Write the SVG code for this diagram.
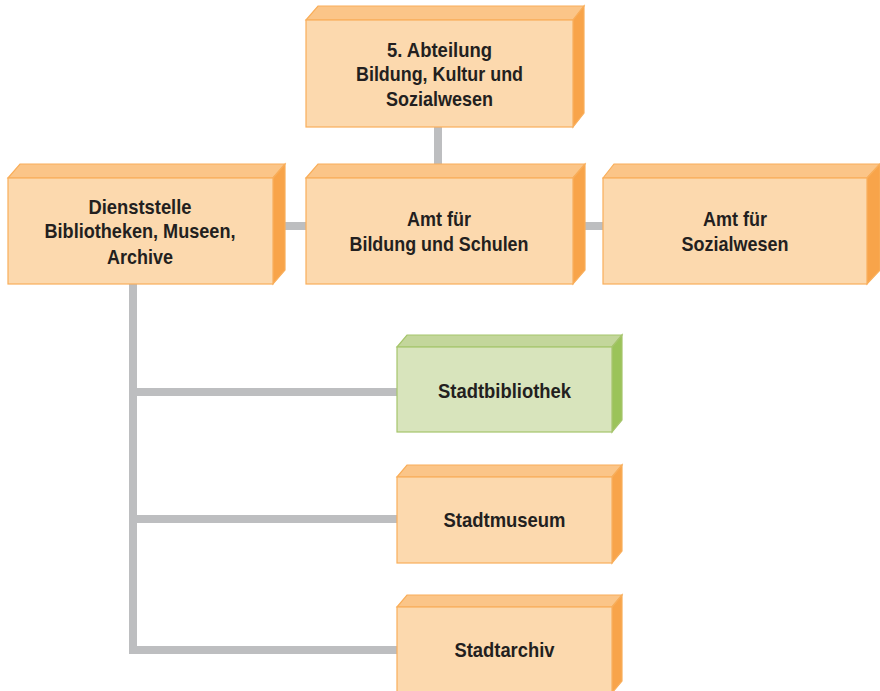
<svg xmlns="http://www.w3.org/2000/svg" width="880" height="691" viewBox="0 0 880 691">
<defs>
<style>
.bg{fill:#ffffff}
.conn{stroke:#bdbec0;stroke-width:8;fill:none;stroke-linecap:butt}
.of{fill:#fcd9ae;stroke:#f9ae5a;stroke-width:1.2}
.ot{fill:#fbc588;stroke:#f9ae5a;stroke-width:1.2}
.os{fill:#f8a44a;stroke:#f9ae5a;stroke-width:1.2}
.gf{fill:#d8e4bc;stroke:#a6c56c;stroke-width:1.2}
.gt{fill:#c3d69b;stroke:#a6c56c;stroke-width:1.2}
.gs{fill:#9bc35a;stroke:#a6c56c;stroke-width:1.2}
text{font-family:"Liberation Sans",Arial,sans-serif;font-weight:bold;font-size:21px;fill:#231f20;text-anchor:middle}
</style>
</defs>
<rect class="bg" x="0" y="0" width="880" height="691"/>
<g id="connectors">
<line class="conn" x1="438" y1="127" x2="438" y2="178"/>
<line class="conn" x1="280" y1="226" x2="306" y2="226"/>
<line class="conn" x1="576" y1="226" x2="603" y2="226"/>
<line class="conn" x1="133" y1="284" x2="133" y2="654"/>
<line class="conn" x1="129" y1="392" x2="397" y2="392"/>
<line class="conn" x1="129" y1="519" x2="397" y2="519"/>
<line class="conn" x1="129" y1="650" x2="397" y2="650"/>
</g>
<g id="abteilung">
<polygon class="ot" points="306,20 318,6 584,6 573,20"/>
<polygon class="os" points="573,20 584,6 584,113 573,127"/>
<rect class="of" x="306" y="20" width="267" height="107"/>
<text x="439.5" y="57" textLength="105" lengthAdjust="spacingAndGlyphs">5. Abteilung</text>
<text x="439.5" y="81" textLength="167" lengthAdjust="spacingAndGlyphs">Bildung, Kultur und</text>
<text x="439.5" y="106" textLength="107" lengthAdjust="spacingAndGlyphs">Sozialwesen</text>
</g>
<g id="dienststelle">
<polygon class="ot" points="8,178 20,164 285,164 273,178"/>
<polygon class="os" points="273,178 285,164 285,270 273,284"/>
<rect class="of" x="8" y="178" width="265" height="106"/>
<text x="140" y="214" textLength="103" lengthAdjust="spacingAndGlyphs">Dienststelle</text>
<text x="140" y="238" textLength="191" lengthAdjust="spacingAndGlyphs">Bibliotheken, Museen,</text>
<text x="140" y="264" textLength="66" lengthAdjust="spacingAndGlyphs">Archive</text>
</g>
<g id="amt-bildung">
<polygon class="ot" points="306,178 318,164 585,164 573,178"/>
<polygon class="os" points="573,178 585,164 585,270 573,284"/>
<rect class="of" x="306" y="178" width="267" height="106"/>
<text x="439" y="226" textLength="64" lengthAdjust="spacingAndGlyphs">Amt für</text>
<text x="439" y="251" textLength="179" lengthAdjust="spacingAndGlyphs">Bildung und Schulen</text>
</g>
<g id="amt-sozialwesen">
<polygon class="ot" points="603,178 614,164 880,164 867,178"/>
<polygon class="os" points="867,178 880,164 880,270 867,284"/>
<rect class="of" x="603" y="178" width="264" height="106"/>
<text x="735" y="226" textLength="64" lengthAdjust="spacingAndGlyphs">Amt für</text>
<text x="735" y="251" textLength="107" lengthAdjust="spacingAndGlyphs">Sozialwesen</text>
</g>
<g id="stadtbibliothek">
<polygon class="gt" points="397,347 407,335 622,335 612,347"/>
<polygon class="gs" points="612,347 622,335 622,420 612,432"/>
<rect class="gf" x="397" y="347" width="215" height="85"/>
<text x="504.5" y="398" textLength="133" lengthAdjust="spacingAndGlyphs">Stadtbibliothek</text>
</g>
<g id="stadtmuseum">
<polygon class="ot" points="397,477 407,465 622,465 612,477"/>
<polygon class="os" points="612,477 622,465 622,551 612,563"/>
<rect class="of" x="397" y="477" width="215" height="86"/>
<text x="504.5" y="527" textLength="122" lengthAdjust="spacingAndGlyphs">Stadtmuseum</text>
</g>
<g id="stadtarchiv">
<polygon class="ot" points="397,607 407,595 622,595 612,607"/>
<polygon class="os" points="612,607 622,595 622,681 612,693"/>
<rect class="of" x="397" y="607" width="215" height="88"/>
<text x="504.5" y="657" textLength="100" lengthAdjust="spacingAndGlyphs">Stadtarchiv</text>
</g>
</svg>
